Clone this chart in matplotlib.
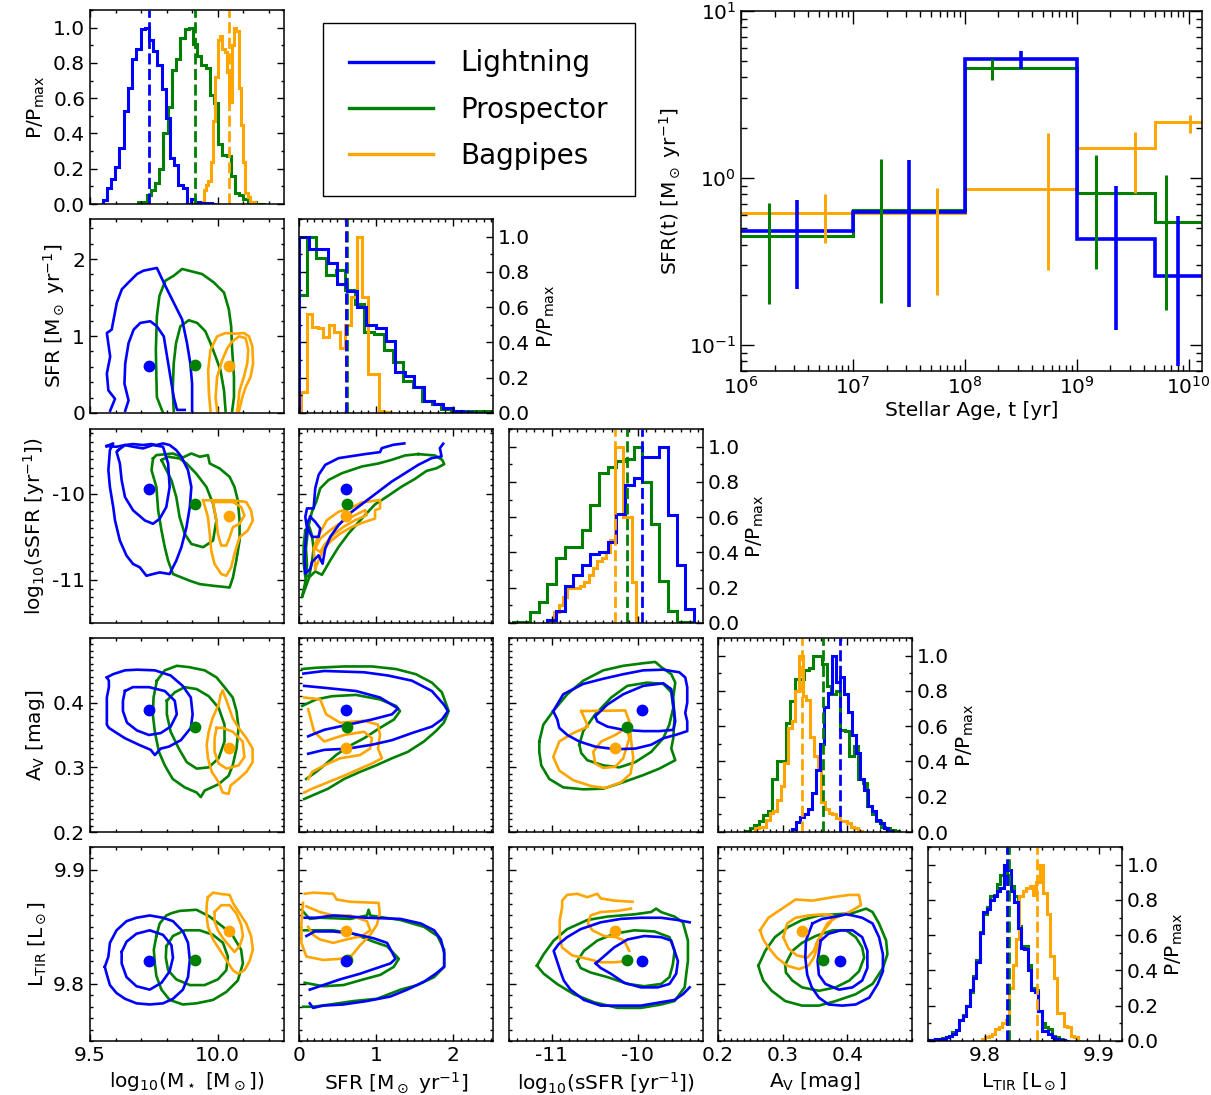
import numpy as np
import matplotlib
matplotlib.use('Agg')
import matplotlib.pyplot as plt
from matplotlib.ticker import MultipleLocator, FixedLocator, FormatStrFormatter, NullFormatter
from matplotlib.lines import Line2D

plt.rcParams['font.family'] = ['DejaVu Sans']
plt.rcParams['mathtext.default'] = 'regular'
plt.rcParams['axes.unicode_minus'] = False

models = ['Lightning', 'Prospector', 'Bagpipes']
colors = ['#0000ff', '#008000', '#ffa500']

#%% medians (order: Lightning, Prospector, Bagpipes)
med_mstar = [9.732, 9.91, 10.045]
med_sfr = [0.615, 0.62, 0.61]
med_ssfr = [-9.95, -10.12, -10.26]
med_av = [0.389, 0.363, 0.330]
med_ltir = [9.820, 9.821, 9.846]

#%% 1D posteriors: first bin edge, bin width, P/Pmax per bin
mstar_start = [9.5495, 9.6888, 9.9271]
mstar_width = [0.0165, 0.0165, 0.0091]
mstar_p_blue = [0.02, 0.09, 0.14, 0.21, 0.32, 0.53, 0.66, 0.82, 0.88, 0.99, 1.0, 0.93, 0.87, 0.79,
                0.65, 0.49, 0.26, 0.22, 0.11, 0.09, 0.0, 0.03, 0.01, 0.005, 0.005, 0.005, 0.0]
mstar_p_green = [0.01, 0.01, 0.05, 0.08, 0.12, 0.2, 0.4, 0.55, 0.76, 0.82, 0.94, 0.99, 1.0, 0.91,
                 0.84, 0.79, 0.77, 0.62, 0.57, 0.34, 0.28, 0.27, 0.16, 0.06, 0.05, 0.03, 0.01, 0.01, 0.0, 0.0]
mstar_p_orange = [0.01, 0.01, 0.08, 0.11, 0.13, 0.24, 0.47, 0.72, 0.93, 0.95, 0.88, 0.86, 0.75, 0.58,
                  0.9, 1.0, 0.98, 0.66, 0.45, 0.24, 0.06, 0.04, 0.01, 0.01, 0.0]

sfr_start = [0.0, -0.025, 0.028]
sfr_width = [0.125, 0.125, 0.072]
sfr_p_blue = [1.0, 0.93, 0.93, 0.85, 0.73, 0.69, 0.60, 0.50, 0.48, 0.41, 0.23, 0.21, 0.145, 0.07,
              0.05, 0.03, 0.01, 0.005, 0.0, 0.0]
sfr_p_green = [0.67, 1.0, 0.88, 0.78, 0.81, 0.70, 0.62, 0.46, 0.45, 0.36, 0.29, 0.18, 0.145, 0.07,
               0.05, 0.02, 0.01, 0.01, 0.01, 0.01, 0.01]
sfr_p_orange = [0.12, 0.56, 0.49, 0.48, 0.43, 0.50, 0.46, 0.37, 0.50, 0.66, 1.0, 0.66, 0.22, 0.22,
                0.01, 0.005]

ssfr_start = [-11.05, -11.45, -10.97]
ssfr_width = [0.1, 0.1, 0.05]
ssfr_p_blue = [0.015, 0.07, 0.21, 0.27, 0.33, 0.39, 0.40, 0.46, 0.62, 0.78, 0.82, 0.94, 0.94, 1.0,
               0.61, 0.33, 0.08]
ssfr_p_green = [0.005, 0.005, 0.06, 0.12, 0.22, 0.37, 0.43, 0.43, 0.53, 0.67, 0.85, 0.885, 0.92,
                0.93, 1.0, 0.80, 0.56, 0.24, 0.07, 0.005, 0.005]
ssfr_p_orange = [0.06, 0.10, 0.15, 0.20, 0.20, 0.20, 0.21, 0.23, 0.27, 0.31, 0.35, 0.37, 0.40, 0.47,
                 1.0, 1.0, 0.60, 0.60, 0.23]

av_start = [0.314, 0.242, 0.257]
av_width = [0.0062, 0.007, 0.0057]
av_p_blue = [0.015, 0.057, 0.086, 0.10, 0.13, 0.22, 0.35, 0.50, 0.71, 0.79, 1.0, 0.85, 0.88, 0.78,
             0.68, 0.55, 0.45, 0.30, 0.24, 0.15, 0.12, 0.07, 0.05, 0.02, 0.005]
av_p_green = [0.005, 0.02, 0.04, 0.06, 0.095, 0.12, 0.30, 0.40, 0.40, 0.62, 0.74, 0.87, 0.87, 0.92,
              0.93, 1.0, 1.0, 0.95, 0.83, 0.78, 0.80, 0.58, 0.57, 0.43, 0.49, 0.30, 0.28, 0.15,
              0.10, 0.06, 0.03, 0.02, 0.01, 0.005]
av_p_orange = [0.02, 0.03, 0.03, 0.07, 0.11, 0.12, 0.18, 0.26, 0.39, 0.59, 0.63, 0.80, 1.0, 0.77,
               0.75, 0.54, 0.43, 0.36, 0.17, 0.13, 0.11, 0.10, 0.08, 0.06, 0.06, 0.05, 0.03, 0.02, 0.005]

ltir_start = [9.7509, 9.7509, 9.7975]
ltir_width = [0.003, 0.003, 0.003]
ltir_p_blue = [0.005, 0.005, 0.01, 0.01, 0.01, 0.02, 0.03, 0.04, 0.06, 0.12, 0.14, 0.2, 0.29, 0.36,
               0.45, 0.61, 0.73, 0.75, 0.80, 0.82, 0.85, 0.87, 1.0, 0.97, 0.85, 0.79, 0.64, 0.53,
               0.52, 0.40, 0.29, 0.28, 0.17, 0.057, 0.057, 0.04, 0.02, 0.01, 0.005, 0.005, 0.0]
ltir_p_green = [0.005, 0.005, 0.01, 0.01, 0.015, 0.02, 0.03, 0.05, 0.06, 0.12, 0.15, 0.2, 0.28, 0.37,
                0.46, 0.62, 0.72, 0.76, 0.82, 0.83, 0.89, 0.94, 1.0, 0.94, 0.88, 0.82, 0.65, 0.54,
                0.54, 0.43, 0.30, 0.29, 0.17, 0.10, 0.08, 0.07, 0.03, 0.02, 0.01, 0.005, 0.0]
ltir_p_orange = [0.01, 0.02, 0.03, 0.04, 0.07, 0.08, 0.10, 0.12, 0.3, 0.43, 0.58, 0.82, 0.85, 0.87,
                 0.88, 0.83, 0.9, 1.0, 0.84, 0.72, 0.48, 0.36, 0.16, 0.16, 0.085, 0.08, 0.03, 0.02, 0.0]

#%% 2D posteriors: [outer, inner] contour paths, (x, y) in data units
mstar_sfr_blue = [
    [(9.579, 0.03), (9.598, 0.184), (9.572, 0.294), (9.566, 0.513), (9.579, 0.732), (9.566, 1.039),
     (9.585, 1.083), (9.605, 1.433), (9.625, 1.608), (9.651, 1.696), (9.684, 1.805), (9.710, 1.849),
     (9.762, 1.884), (9.795, 1.652), (9.828, 1.433), (9.861, 1.214), (9.880, 0.907), (9.893, 0.644),
     (9.900, 0.381), (9.900, 0.03)],
    [(9.638, 0.03), (9.651, 0.163), (9.635, 0.381), (9.638, 0.644), (9.651, 0.907), (9.671, 1.083),
     (9.697, 1.170), (9.736, 1.192), (9.762, 1.126), (9.789, 0.995), (9.802, 0.732), (9.815, 0.469),
     (9.828, 0.206), (9.841, 0.04), (9.871, 0.04)]]
mstar_sfr_green = [
    [(9.785, 0.01), (9.762, 0.206), (9.760, 0.469), (9.758, 0.82), (9.762, 1.258), (9.772, 1.521),
     (9.795, 1.718), (9.828, 1.783), (9.861, 1.871), (9.887, 1.849), (9.939, 1.805), (9.985, 1.696),
     (10.025, 1.564), (10.044, 1.345), (10.053, 1.126), (10.057, 0.82), (10.064, 0.469),
     (10.064, 0.206), (10.057, 0.03)],
    [(9.828, 0.03), (9.824, 0.294), (9.828, 0.644), (9.837, 0.907), (9.854, 1.126), (9.887, 1.205),
     (9.920, 1.170), (9.952, 1.061), (9.972, 0.907), (9.992, 0.732), (10.011, 0.557), (10.025, 0.294),
     (10.031, 0.03)]]
mstar_sfr_orange = [
    [(9.972, 0.03), (9.966, 0.25), (9.963, 0.557), (9.972, 0.82), (9.998, 0.995), (10.031, 1.039),
     (10.070, 1.03), (10.103, 1.039), (10.123, 0.995), (10.136, 0.864), (10.139, 0.644),
     (10.129, 0.469), (10.110, 0.338), (10.097, 0.206), (10.084, 0.03)],
    [(9.998, 0.03), (9.992, 0.206), (9.998, 0.469), (10.018, 0.688), (10.038, 0.842), (10.057, 0.929),
     (10.084, 0.995), (10.110, 0.973), (10.120, 0.82), (10.116, 0.644), (10.103, 0.469),
     (10.086, 0.294), (10.077, 0.03)]]

mstar_ssfr_blue = [
    [(9.565, -9.448), (9.591, -9.417), (9.578, -9.495), (9.572, -9.728), (9.578, -9.922),
     (9.591, -10.155), (9.598, -10.311), (9.617, -10.544), (9.643, -10.718), (9.669, -10.816),
     (9.695, -10.854), (9.721, -10.952), (9.747, -10.932), (9.773, -10.913), (9.812, -10.932),
     (9.825, -10.854), (9.838, -10.777), (9.858, -10.621), (9.878, -10.388), (9.891, -10.155),
     (9.897, -9.922), (9.884, -9.728), (9.858, -9.572), (9.838, -9.495), (9.812, -9.436),
     (9.786, -9.417), (9.760, -9.436), (9.741, -9.425), (9.708, -9.436), (9.669, -9.425),
     (9.637, -9.436), (9.604, -9.456)],
    [(9.611, -9.495), (9.637, -9.436), (9.669, -9.456), (9.708, -9.475), (9.747, -9.436),
     (9.786, -9.456), (9.806, -9.65), (9.812, -9.922), (9.799, -10.155), (9.773, -10.291),
     (9.747, -10.349), (9.715, -10.311), (9.669, -10.194), (9.637, -10.039), (9.624, -9.844),
     (9.617, -9.65), (9.604, -9.514)]]
mstar_ssfr_green = [
    [(9.747, -9.592), (9.760, -9.553), (9.825, -9.534), (9.864, -9.580), (9.897, -9.534),
     (9.930, -9.572), (9.962, -9.553), (9.969, -9.650), (10.008, -9.708), (10.047, -9.805),
     (10.066, -9.922), (10.079, -10.077), (10.086, -10.311), (10.086, -10.544), (10.073, -10.777),
     (10.060, -10.971), (10.047, -11.088), (9.982, -11.068), (9.930, -11.049), (9.891, -11.01),
     (9.825, -10.932), (9.806, -10.777), (9.793, -10.621), (9.780, -10.427), (9.767, -10.194),
     (9.760, -9.922), (9.741, -9.728)],
    [(9.780, -9.611), (9.806, -9.572), (9.851, -9.592), (9.878, -9.650), (9.916, -9.767),
     (9.956, -9.922), (9.982, -10.116), (9.995, -10.311), (9.982, -10.544), (9.943, -10.621),
     (9.897, -10.583), (9.871, -10.466), (9.851, -10.272), (9.838, -10.039), (9.819, -9.844),
     (9.793, -9.689)]]
mstar_ssfr_orange = [
    [(9.943, -10.077), (10.060, -10.077), (10.112, -10.097), (10.131, -10.194), (10.138, -10.311),
     (10.118, -10.427), (10.086, -10.505), (10.066, -10.699), (10.053, -10.854), (10.034, -10.952),
     (10.014, -10.932), (9.988, -10.816), (9.975, -10.660), (9.969, -10.466), (9.962, -10.272),
     (9.949, -10.136)],
    [(9.982, -10.097), (10.060, -10.097), (10.092, -10.155), (10.105, -10.252), (10.086, -10.349),
     (10.060, -10.388), (10.047, -10.505), (10.034, -10.602), (10.014, -10.602), (10.001, -10.466),
     (9.995, -10.311), (9.988, -10.194)]]

sfr_ssfr_blue = [
    [(1.368, -9.417), (1.226, -9.433), (1.075, -9.472), (1.053, -9.518), (0.859, -9.541),
     (0.514, -9.588), (0.341, -9.666), (0.255, -9.782), (0.211, -9.938), (0.19, -10.171),
     (0.104, -10.171), (0.082, -10.268), (0.104, -10.404), (0.082, -10.599), (0.073, -10.793),
     (0.082, -10.929), (0.147, -10.871), (0.168, -10.793), (0.255, -10.715), (0.306, -10.812),
     (0.341, -10.637), (0.406, -10.501), (0.514, -10.365), (0.686, -10.21), (0.859, -10.093),
     (1.031, -9.977), (1.204, -9.86), (1.377, -9.763), (1.549, -9.666), (1.722, -9.588),
     (1.852, -9.569), (1.830, -9.472), (1.873, -9.421)],
    [(0.147, -10.268), (0.211, -10.327), (0.276, -10.404), (0.255, -10.501), (0.168, -10.501),
     (0.125, -10.424), (0.104, -10.346)]]
sfr_ssfr_green = [
    [(1.549, -9.541), (1.377, -9.557), (1.204, -9.608), (1.031, -9.65), (0.816, -9.685),
     (0.557, -9.763), (0.384, -9.841), (0.276, -9.938), (0.224, -10.093), (0.168, -10.21),
     (0.117, -10.404), (0.091, -10.637), (0.104, -10.832), (0.082, -11.026), (0.039, -11.201),
     (0.134, -10.968), (0.211, -10.902), (0.298, -10.941), (0.406, -10.774), (0.514, -10.618),
     (0.643, -10.463), (0.816, -10.288), (0.988, -10.124), (1.161, -10.023), (1.334, -9.918),
     (1.506, -9.829), (1.657, -9.736), (1.787, -9.705), (1.886, -9.658), (1.860, -9.608),
     (1.765, -9.557)],
    [(0.082, -10.424), (0.134, -10.385), (0.168, -10.482), (0.19, -10.637), (0.168, -10.793),
     (0.134, -10.948), (0.082, -10.968), (0.06, -10.793), (0.06, -10.599)]]
sfr_ssfr_orange = [
    [(0.211, -10.871), (0.19, -10.637), (0.255, -10.482), (0.363, -10.307), (0.514, -10.21),
     (0.686, -10.163), (0.816, -10.101), (1.053, -10.074), (1.053, -10.171), (0.988, -10.191),
     (0.988, -10.288), (0.837, -10.334), (0.686, -10.385), (0.535, -10.463), (0.427, -10.54),
     (0.319, -10.637), (0.255, -10.774)],
    [(0.211, -10.637), (0.276, -10.521), (0.406, -10.424), (0.557, -10.327), (0.729, -10.249),
     (0.859, -10.191), (0.880, -10.249), (0.729, -10.307), (0.578, -10.385), (0.449, -10.474),
     (0.341, -10.579), (0.276, -10.676)]]

mstar_av_blue = [
    [(9.566, 0.439), (9.590, 0.444), (9.637, 0.450), (9.684, 0.451), (9.754, 0.450), (9.816, 0.442),
     (9.863, 0.426), (9.895, 0.408), (9.902, 0.382), (9.895, 0.361), (9.856, 0.342), (9.809, 0.332),
     (9.777, 0.329), (9.754, 0.319), (9.738, 0.327), (9.691, 0.335), (9.637, 0.345), (9.605, 0.353),
     (9.574, 0.361), (9.566, 0.366), (9.566, 0.387), (9.566, 0.408), (9.574, 0.424), (9.574, 0.434)],
    [(9.637, 0.418), (9.668, 0.424), (9.731, 0.424), (9.793, 0.418), (9.832, 0.403), (9.840, 0.382),
     (9.816, 0.363), (9.777, 0.353), (9.731, 0.35), (9.684, 0.357), (9.645, 0.369), (9.629, 0.387),
     (9.629, 0.403)]]
mstar_av_green = [
    [(9.762, 0.434), (9.793, 0.450), (9.840, 0.457), (9.887, 0.455), (9.949, 0.450), (9.996, 0.439),
     (10.027, 0.424), (10.059, 0.408), (10.074, 0.387), (10.082, 0.361), (10.074, 0.329),
     (10.059, 0.303), (10.043, 0.287), (10.004, 0.274), (9.949, 0.264), (9.934, 0.254),
     (9.918, 0.261), (9.871, 0.269), (9.824, 0.282), (9.793, 0.303), (9.770, 0.324), (9.754, 0.355),
     (9.746, 0.382), (9.749, 0.408)],
    [(9.801, 0.403), (9.832, 0.416), (9.871, 0.424), (9.918, 0.421), (9.965, 0.410), (10.004, 0.392),
     (10.027, 0.366), (10.027, 0.340), (10.004, 0.314), (9.965, 0.300), (9.918, 0.298),
     (9.879, 0.308), (9.848, 0.329), (9.816, 0.355), (9.801, 0.382)]]
mstar_av_orange = [
    [(10.020, 0.418), (10.035, 0.403), (10.059, 0.376), (10.082, 0.361), (10.113, 0.345),
     (10.137, 0.329), (10.137, 0.308), (10.113, 0.293), (10.082, 0.282), (10.051, 0.272),
     (10.043, 0.259), (10.020, 0.261), (10.004, 0.277), (9.977, 0.293), (9.962, 0.314),
     (9.957, 0.335), (9.965, 0.355), (9.980, 0.376), (10.004, 0.397), (10.012, 0.413)],
    [(9.996, 0.361), (10.020, 0.361), (10.059, 0.355), (10.098, 0.340), (10.105, 0.316),
     (10.082, 0.303), (10.035, 0.298), (10.004, 0.306), (9.988, 0.324), (9.988, 0.345)]]

sfr_av_blue = [
    [(0.057, 0.445), (0.327, 0.449), (0.845, 0.447), (1.156, 0.442), (1.467, 0.434), (1.726, 0.418),
     (1.882, 0.397), (1.934, 0.387), (1.856, 0.374), (1.726, 0.363), (1.467, 0.353), (1.208, 0.342),
     (0.949, 0.335), (0.638, 0.329), (0.327, 0.327), (0.119, 0.321)],
    [(0.067, 0.426), (0.327, 0.423), (0.741, 0.418), (1.052, 0.408), (1.286, 0.391), (1.208, 0.382),
     (0.949, 0.374), (0.638, 0.366), (0.327, 0.358), (0.119, 0.348)]]
sfr_av_green = [
    [(0.041, 0.452), (0.223, 0.454), (0.586, 0.456), (0.949, 0.456), (1.260, 0.452), (1.519, 0.444),
     (1.726, 0.431), (1.856, 0.416), (1.944, 0.387), (1.882, 0.369), (1.778, 0.356), (1.623, 0.340),
     (1.415, 0.324), (1.208, 0.314), (1.001, 0.303), (0.793, 0.293), (0.586, 0.282), (0.378, 0.267),
     (0.223, 0.259), (0.067, 0.251)],
    [(0.041, 0.395), (0.223, 0.405), (0.430, 0.410), (0.741, 0.412), (1.052, 0.405), (1.260, 0.395),
     (1.312, 0.387), (1.234, 0.374), (1.052, 0.361), (0.845, 0.345), (0.638, 0.332), (0.482, 0.319),
     (0.327, 0.303), (0.223, 0.293), (0.093, 0.282)]]
sfr_av_orange = [
    [(0.067, 0.408), (0.275, 0.405), (0.353, 0.382), (0.534, 0.369), (0.845, 0.372), (1.026, 0.366),
     (1.052, 0.350), (1.026, 0.329), (1.078, 0.314), (0.949, 0.306), (0.793, 0.298), (0.586, 0.287),
     (0.378, 0.277), (0.171, 0.267), (0.067, 0.261)],
    [(0.119, 0.390), (0.197, 0.355), (0.327, 0.340), (0.586, 0.350), (0.845, 0.355), (0.949, 0.345),
     (0.923, 0.329), (0.793, 0.319), (0.534, 0.314), (0.327, 0.303), (0.171, 0.293), (0.119, 0.282)]]

ssfr_av_blue = [
    [(-10.981, 0.387), (-10.865, 0.413), (-10.633, 0.429), (-10.401, 0.437), (-10.169, 0.444),
     (-9.937, 0.450), (-9.705, 0.451), (-9.519, 0.447), (-9.450, 0.439), (-9.427, 0.424),
     (-9.427, 0.400), (-9.450, 0.384), (-9.427, 0.371), (-9.427, 0.356), (-9.566, 0.350),
     (-9.705, 0.345), (-9.844, 0.335), (-10.030, 0.329), (-10.262, 0.328), (-10.494, 0.332),
     (-10.679, 0.340), (-10.818, 0.350), (-10.911, 0.361), (-10.934, 0.374)],
    [(-10.494, 0.379), (-10.354, 0.397), (-10.169, 0.413), (-9.937, 0.426), (-9.705, 0.430),
     (-9.612, 0.421), (-9.589, 0.397), (-9.566, 0.371), (-9.589, 0.358), (-9.751, 0.356),
     (-9.937, 0.356), (-10.169, 0.358), (-10.354, 0.363), (-10.471, 0.371)]]
ssfr_av_green = [
    [(-11.143, 0.340), (-11.096, 0.366), (-10.981, 0.387), (-10.818, 0.413), (-10.633, 0.434),
     (-10.401, 0.450), (-10.169, 0.457), (-9.937, 0.461), (-9.798, 0.463), (-9.728, 0.455),
     (-9.612, 0.444), (-9.566, 0.431), (-9.589, 0.408), (-9.575, 0.376), (-9.589, 0.345),
     (-9.612, 0.329), (-9.566, 0.311), (-9.751, 0.298), (-9.937, 0.288), (-10.169, 0.277),
     (-10.401, 0.267), (-10.633, 0.266), (-10.865, 0.269), (-11.027, 0.282), (-11.120, 0.303),
     (-11.143, 0.324)],
    [(-10.679, 0.335), (-10.633, 0.356), (-10.494, 0.382), (-10.308, 0.408), (-10.122, 0.426),
     (-9.891, 0.431), (-9.705, 0.429), (-9.612, 0.416), (-9.589, 0.392), (-9.635, 0.366),
     (-9.705, 0.345), (-9.844, 0.324), (-10.030, 0.308), (-10.215, 0.300), (-10.401, 0.303),
     (-10.586, 0.311), (-10.656, 0.322)]]
ssfr_av_orange = [
    [(-10.656, 0.387), (-10.577, 0.363), (-10.749, 0.353), (-10.911, 0.340), (-10.981, 0.316),
     (-10.911, 0.295), (-10.749, 0.280), (-10.540, 0.271), (-10.378, 0.268), (-10.192, 0.277),
     (-10.085, 0.290), (-10.053, 0.314), (-10.076, 0.340), (-10.099, 0.371), (-10.146, 0.388)],
    [(-10.494, 0.306), (-10.517, 0.324), (-10.424, 0.340), (-10.262, 0.350), (-10.132, 0.361),
     (-10.099, 0.345), (-10.169, 0.314), (-10.262, 0.301), (-10.401, 0.299)]]

mstar_ltir_blue = [
    [(9.558, 9.815), (9.572, 9.824), (9.578, 9.836), (9.604, 9.847), (9.643, 9.855), (9.682, 9.858),
     (9.734, 9.860), (9.786, 9.858), (9.825, 9.855), (9.864, 9.846), (9.884, 9.836), (9.891, 9.821),
     (9.884, 9.806), (9.864, 9.795), (9.825, 9.787), (9.786, 9.783), (9.734, 9.782), (9.682, 9.783),
     (9.637, 9.787), (9.604, 9.792), (9.578, 9.799), (9.565, 9.809)],
    [(9.624, 9.828), (9.643, 9.837), (9.682, 9.844), (9.734, 9.847), (9.786, 9.843), (9.819, 9.834),
     (9.825, 9.823), (9.812, 9.811), (9.780, 9.801), (9.734, 9.795), (9.682, 9.798), (9.643, 9.806),
     (9.624, 9.818)]]
mstar_ltir_green = [
    [(9.760, 9.842), (9.773, 9.853), (9.799, 9.860), (9.819, 9.862), (9.851, 9.864), (9.917, 9.865),
     (9.969, 9.859), (10.021, 9.850), (10.060, 9.842), (10.092, 9.830), (10.099, 9.818),
     (10.079, 9.803), (10.034, 9.793), (9.982, 9.786), (9.917, 9.783), (9.864, 9.782),
     (9.812, 9.786), (9.780, 9.795), (9.760, 9.807), (9.754, 9.818), (9.750, 9.830)],
    [(9.799, 9.833), (9.825, 9.842), (9.871, 9.847), (9.930, 9.847), (9.982, 9.843), (10.021, 9.836),
     (10.040, 9.824), (10.034, 9.812), (10.001, 9.804), (9.949, 9.799), (9.891, 9.799),
     (9.838, 9.804), (9.806, 9.812), (9.797, 9.823)]]
mstar_ltir_orange = [
    [(9.962, 9.876), (9.982, 9.880), (10.008, 9.879), (10.047, 9.878), (10.060, 9.871),
     (10.086, 9.862), (10.112, 9.853), (10.131, 9.842), (10.138, 9.830), (10.125, 9.820),
     (10.105, 9.812), (10.079, 9.809), (10.060, 9.812), (10.034, 9.821), (10.008, 9.830),
     (9.982, 9.839), (9.962, 9.850), (9.956, 9.862), (9.958, 9.871)],
    [(9.988, 9.863), (10.014, 9.869), (10.047, 9.869), (10.073, 9.862), (10.092, 9.852),
     (10.099, 9.842), (10.086, 9.833), (10.066, 9.828), (10.047, 9.833), (10.021, 9.840),
     (10.001, 9.847), (9.988, 9.855)]]

sfr_ltir_blue = [
    [(0.074, 9.858), (0.227, 9.858), (0.445, 9.860), (0.882, 9.858), (1.319, 9.857), (1.581, 9.853),
     (1.755, 9.847), (1.843, 9.839), (1.886, 9.827), (1.886, 9.815), (1.777, 9.809), (1.624, 9.802),
     (1.406, 9.795), (1.188, 9.789), (0.882, 9.785), (0.576, 9.782), (0.314, 9.781), (0.183, 9.779),
     (0.140, 9.783)],
    [(0.096, 9.842), (0.205, 9.846), (0.445, 9.846), (0.707, 9.844), (0.969, 9.840), (1.144, 9.836),
     (1.253, 9.822), (1.188, 9.818), (1.013, 9.814), (0.795, 9.809), (0.533, 9.804), (0.271, 9.798),
     (0.140, 9.795)]]
sfr_ltir_green = [
    [(0.031, 9.865), (0.140, 9.857), (0.271, 9.858), (0.664, 9.857), (0.882, 9.860), (0.904, 9.865),
     (0.926, 9.860), (1.319, 9.856), (1.624, 9.850), (1.799, 9.842), (1.886, 9.830), (1.886, 9.815),
     (1.755, 9.806), (1.537, 9.799), (1.319, 9.795), (1.013, 9.787), (0.707, 9.785), (0.402, 9.782),
     (0.183, 9.780), (0.052, 9.780)],
    [(0.031, 9.847), (0.183, 9.847), (0.445, 9.847), (0.707, 9.844), (0.969, 9.837), (1.144, 9.833),
     (1.297, 9.822), (1.231, 9.815), (1.057, 9.808), (0.838, 9.804), (0.576, 9.799), (0.314, 9.798),
     (0.074, 9.801)]]
sfr_ltir_orange = [
    [(0.074, 9.879), (0.183, 9.880), (0.445, 9.879), (0.489, 9.874), (0.664, 9.872), (1.035, 9.871),
     (1.048, 9.862), (1.013, 9.852), (0.926, 9.843), (0.795, 9.834), (0.686, 9.825), (0.533, 9.822),
     (0.314, 9.821), (0.096, 9.824), (0.031, 9.836), (0.031, 9.853), (0.052, 9.871)],
    [(0.096, 9.868), (0.271, 9.863), (0.445, 9.860), (0.664, 9.860), (0.882, 9.855), (0.926, 9.847),
     (0.817, 9.842), (0.620, 9.839), (0.445, 9.836), (0.271, 9.839), (0.183, 9.843), (0.118, 9.850)]]

ssfr_ltir_blue = [
    [(-9.399, 9.854), (-9.535, 9.856), (-9.730, 9.858), (-9.964, 9.858), (-10.197, 9.857),
     (-10.431, 9.854), (-10.664, 9.848), (-10.820, 9.841), (-10.917, 9.835), (-10.976, 9.829),
     (-10.937, 9.820), (-10.898, 9.811), (-10.859, 9.803), (-10.781, 9.795), (-10.625, 9.786),
     (-10.431, 9.781), (-10.197, 9.781), (-9.964, 9.781), (-9.730, 9.784), (-9.574, 9.786),
     (-9.477, 9.791), (-9.399, 9.797)],
    [(-10.489, 9.818), (-10.411, 9.823), (-10.275, 9.832), (-10.119, 9.839), (-9.925, 9.842),
     (-9.730, 9.841), (-9.613, 9.838), (-9.574, 9.829), (-9.535, 9.820), (-9.555, 9.809),
     (-9.633, 9.800), (-9.769, 9.797), (-9.964, 9.797), (-10.158, 9.801), (-10.314, 9.809),
     (-10.431, 9.814)]]
ssfr_ltir_green = [
    [(-11.170, 9.816), (-11.092, 9.826), (-10.976, 9.838), (-10.820, 9.848), (-10.586, 9.856),
     (-10.353, 9.859), (-10.041, 9.861), (-9.847, 9.863), (-9.788, 9.866), (-9.730, 9.863),
     (-9.574, 9.859), (-9.477, 9.854), (-9.419, 9.838), (-9.419, 9.820), (-9.438, 9.809),
     (-9.457, 9.797), (-9.574, 9.785), (-9.730, 9.782), (-9.964, 9.779), (-10.236, 9.779),
     (-10.509, 9.784), (-10.742, 9.791), (-10.937, 9.800), (-11.092, 9.809)],
    [(-10.703, 9.820), (-10.625, 9.829), (-10.470, 9.838), (-10.275, 9.844), (-10.041, 9.847),
     (-9.808, 9.846), (-9.633, 9.841), (-9.574, 9.829), (-9.594, 9.817), (-9.633, 9.806),
     (-9.730, 9.800), (-9.925, 9.798), (-10.119, 9.800), (-10.353, 9.806), (-10.547, 9.810),
     (-10.664, 9.814)]]
ssfr_ltir_orange = [
    [(-10.061, 9.872), (-10.275, 9.873), (-10.431, 9.875), (-10.470, 9.879), (-10.586, 9.876),
     (-10.703, 9.879), (-10.820, 9.878), (-10.878, 9.873), (-10.878, 9.867), (-10.906, 9.856),
     (-10.906, 9.841), (-10.878, 9.832), (-10.762, 9.825), (-10.586, 9.822), (-10.431, 9.819),
     (-10.275, 9.819), (-10.119, 9.820)],
    [(-10.080, 9.866), (-10.236, 9.864), (-10.431, 9.863), (-10.547, 9.860), (-10.579, 9.853),
     (-10.528, 9.847), (-10.392, 9.842), (-10.256, 9.841), (-10.158, 9.838), (-10.100, 9.829)]]

av_ltir_blue = [
    [(0.346, 9.853), (0.361, 9.857), (0.382, 9.859), (0.398, 9.861), (0.408, 9.860), (0.423, 9.858),
     (0.439, 9.853), (0.449, 9.841), (0.455, 9.826), (0.455, 9.811), (0.447, 9.800), (0.434, 9.788),
     (0.413, 9.782), (0.392, 9.781), (0.371, 9.782), (0.356, 9.788), (0.345, 9.797), (0.338, 9.808),
     (0.335, 9.823), (0.336, 9.838)],
    [(0.359, 9.838), (0.371, 9.844), (0.390, 9.847), (0.408, 9.847), (0.423, 9.841), (0.431, 9.829),
     (0.431, 9.814), (0.423, 9.803), (0.408, 9.797), (0.387, 9.795), (0.366, 9.800), (0.356, 9.808),
     (0.354, 9.820)]]
av_ltir_green = [
    [(0.2625, 9.816), (0.273, 9.829), (0.288, 9.841), (0.309, 9.850), (0.330, 9.856), (0.356, 9.860),
     (0.382, 9.861), (0.408, 9.862), (0.429, 9.866), (0.439, 9.863), (0.449, 9.853), (0.460, 9.838),
     (0.462, 9.826), (0.455, 9.814), (0.439, 9.800), (0.413, 9.791), (0.382, 9.785), (0.356, 9.781),
     (0.330, 9.781), (0.304, 9.785), (0.283, 9.794), (0.270, 9.803), (0.265, 9.811)],
    [(0.304, 9.817), (0.315, 9.829), (0.330, 9.836), (0.351, 9.842), (0.377, 9.847), (0.398, 9.847),
     (0.413, 9.841), (0.423, 9.832), (0.426, 9.823), (0.418, 9.811), (0.403, 9.803), (0.382, 9.797),
     (0.356, 9.794), (0.330, 9.797), (0.315, 9.803), (0.305, 9.810)]]
av_ltir_orange = [
    [(0.265, 9.847), (0.278, 9.858), (0.299, 9.866), (0.320, 9.874), (0.346, 9.873), (0.377, 9.876),
     (0.403, 9.878), (0.418, 9.878), (0.421, 9.869), (0.403, 9.863), (0.382, 9.858), (0.369, 9.853),
     (0.361, 9.844), (0.354, 9.832), (0.348, 9.823), (0.340, 9.816), (0.325, 9.813), (0.307, 9.816),
     (0.291, 9.823), (0.278, 9.832), (0.270, 9.839)],
    [(0.301, 9.841), (0.307, 9.853), (0.320, 9.858), (0.340, 9.860), (0.361, 9.861), (0.377, 9.860),
     (0.374, 9.854), (0.364, 9.847), (0.354, 9.838), (0.348, 9.829), (0.338, 9.823), (0.322, 9.825),
     (0.309, 9.831)]]

#%% star formation history
sfh_edges = [1e6, 1e7, 1e8, 1e9, 5e9, 1.32e10]
sfh_blue = [0.485, 0.628, 5.18, 0.43, 0.26]
sfh_green = [0.453, 0.64, 4.55, 0.817, 0.545]
sfh_orange = [0.622, 0.617, 0.855, 1.51, 2.16]
err_t_blue = [3.16e6, 3.16e7, 3.16e8, 2.24e9, 8.1e9]
err_lo_blue = [0.216, 0.17, 4.49, 0.123, 0.075]
err_hi_blue = [0.74, 1.28, 5.75, 0.90, 0.594]
err_t_green = [1.78e6, 1.78e7, 1.76e8, 1.48e9, 6.3e9]
err_lo_green = [0.176, 0.178, 3.84, 0.284, 0.163]
err_hi_green = [0.71, 1.30, 5.18, 1.37, 1.05]
err_t_orange = [5.6e6, 5.6e7, 5.55e8, 3.3e9, 1.04e10]
err_lo_orange = [0.41, 0.20, 0.28, 0.81, 1.85]
err_hi_orange = [0.80, 0.875, 1.85, 1.89, 2.4]

#%% layout / styling
W, H = 1211, 1095
fig = plt.figure(figsize=(W / 100, H / 100), dpi=100)


def px_axes(x0, y0, w, h):
    return fig.add_axes([x0 / W, 1 - (y0 + h) / H, w / W, h / H])


names = ['mstar', 'sfr', 'ssfr', 'av', 'ltir']
axlabel = {'mstar': r'log$_{10}$(M$_\star$ [M$_\odot$])',
           'sfr': r'SFR [M$_\odot$ yr$^{-1}$]',
           'ssfr': r'log$_{10}$(sSFR [yr$^{-1}$])',
           'av': r'A$_{\mathrm{V}}$ [mag]',
           'ltir': r'L$_{\mathrm{TIR}}$ [L$_\odot$]'}
lims = {'mstar': (9.5, 10.26), 'sfr': (0, 2.52), 'ssfr': (-11.5, -9.25),
        'av': (0.2, 0.5), 'ltir': (9.75, 9.92)}
major = {'mstar': [9.5, 10.0], 'sfr': [0, 1, 2], 'ssfr': [-11, -10],
         'av': [0.2, 0.3, 0.4], 'ltir': [9.8, 9.9]}
minor_x = {'mstar': 0.1, 'sfr': 0.1, 'ssfr': 0.1, 'av': 0.01, 'ltir': 0.01}
minor_y = {'mstar': 0.1, 'sfr': 0.2, 'ssfr': 0.1, 'av': 0.01, 'ltir': 0.01}
fmt = {'mstar': '%.1f', 'sfr': '%d', 'ssfr': '%d', 'av': '%.1f', 'ltir': '%.1f'}

meds = {'mstar': med_mstar, 'sfr': med_sfr, 'ssfr': med_ssfr, 'av': med_av, 'ltir': med_ltir}
hists = {
    'mstar': (mstar_start, mstar_width, [mstar_p_blue, mstar_p_green, mstar_p_orange]),
    'sfr': (sfr_start, sfr_width, [sfr_p_blue, sfr_p_green, sfr_p_orange]),
    'ssfr': (ssfr_start, ssfr_width, [ssfr_p_blue, ssfr_p_green, ssfr_p_orange]),
    'av': (av_start, av_width, [av_p_blue, av_p_green, av_p_orange]),
    'ltir': (ltir_start, ltir_width, [ltir_p_blue, ltir_p_green, ltir_p_orange]),
}
contours = {
    (1, 0): [mstar_sfr_blue, mstar_sfr_green, mstar_sfr_orange],
    (2, 0): [mstar_ssfr_blue, mstar_ssfr_green, mstar_ssfr_orange],
    (2, 1): [sfr_ssfr_blue, sfr_ssfr_green, sfr_ssfr_orange],
    (3, 0): [mstar_av_blue, mstar_av_green, mstar_av_orange],
    (3, 1): [sfr_av_blue, sfr_av_green, sfr_av_orange],
    (3, 2): [ssfr_av_blue, ssfr_av_green, ssfr_av_orange],
    (4, 0): [mstar_ltir_blue, mstar_ltir_green, mstar_ltir_orange],
    (4, 1): [sfr_ltir_blue, sfr_ltir_green, sfr_ltir_orange],
    (4, 2): [ssfr_ltir_blue, ssfr_ltir_green, ssfr_ltir_orange],
    (4, 3): [av_ltir_blue, av_ltir_green, av_ltir_orange],
}
# contours that touch the plot edge (left open)
open_panels = {(1, 0), (3, 1), (4, 1)}
open_single = {((2, 1), 0, 0), ((4, 2), 0, 0), ((4, 2), 2, 0), ((4, 2), 2, 1)}

col_x = [90, 299, 508.5, 718, 927.5]
row_y = [10, 219, 429, 638, 847]
size = 194
FS = 14.5
dash = (0, (4, 1.6))


def style(ax):
    ax.tick_params(which='both', direction='in', top=True, right=True,
                   labelsize=FS, width=1)
    ax.tick_params(which='major', length=5)
    ax.tick_params(which='minor', length=2.5)
    for s in ax.spines.values():
        s.set_linewidth(1.1)


def draw_path(ax, pts, color, close):
    pts = np.array(pts)
    if close:
        pts = np.vstack([pts, pts[:1]])
    ax.plot(pts[:, 0], pts[:, 1], color=color, lw=1.9, solid_joinstyle='round')


for i in range(5):
    for j in range(i + 1):
        ax = px_axes(col_x[j], row_y[i], size, size)
        style(ax)
        xn = names[j]
        ax.set_xlim(lims[xn])
        ax.xaxis.set_major_locator(FixedLocator(major[xn]))
        ax.xaxis.set_minor_locator(MultipleLocator(minor_x[xn]))
        ax.xaxis.set_major_formatter(FormatStrFormatter(fmt[xn]))
        if i == 4:
            ax.set_xlabel(axlabel[xn], fontsize=FS)
        else:
            ax.tick_params(labelbottom=False)

        if i == j:
            starts, widths, ps = hists[xn]
            for k in [1, 2, 0]:
                edges = starts[k] + widths[k] * np.arange(len(ps[k]) + 1)
                ax.stairs(ps[k], edges, baseline=0, color=colors[k], lw=2.2)
            for k in [1, 2, 0]:
                ax.axvline(meds[xn][k], color=colors[k], lw=2.0, ls=dash)
            ax.set_ylim(0, 1.1)
            ax.yaxis.set_major_locator(FixedLocator([0, 0.2, 0.4, 0.6, 0.8, 1.0]))
            ax.yaxis.set_minor_locator(MultipleLocator(0.1))
            ax.yaxis.set_major_formatter(FormatStrFormatter('%.1f'))
            ax.set_ylabel(r'P/P$_{\mathrm{max}}$', fontsize=FS)
            if i > 0:
                ax.tick_params(labelleft=False, labelright=True)
                ax.yaxis.set_label_position('right')
        else:
            yn = names[i]
            ax.set_ylim(lims[yn])
            ax.yaxis.set_major_locator(FixedLocator(major[yn]))
            ax.yaxis.set_minor_locator(MultipleLocator(minor_y[yn]))
            ax.yaxis.set_major_formatter(FormatStrFormatter(fmt[yn]))
            if j == 0:
                ax.set_ylabel(axlabel[yn], fontsize=FS)
            else:
                ax.tick_params(labelleft=False)
            for k in [1, 2, 0]:
                for m, pts in enumerate(contours[(i, j)][k]):
                    close = (i, j) not in open_panels and ((i, j), k, m) not in open_single
                    draw_path(ax, pts, colors[k], close)
            for k in [1, 2, 0]:
                ax.plot(meds[xn][k], meds[yn][k], 'o', color=colors[k], ms=8.5,
                        mec='none', zorder=5)

fig.align_ylabels()

#%% star formation history panel
ax = px_axes(741, 11, 461, 360)
ax.set_xscale('log')
ax.set_yscale('log')
sfh = [sfh_blue, sfh_green, sfh_orange]
et = [err_t_blue, err_t_green, err_t_orange]
elo = [err_lo_blue, err_lo_green, err_lo_orange]
ehi = [err_hi_blue, err_hi_green, err_hi_orange]
lws = [2.6, 2.2, 2.1]
for k in [2, 1, 0]:
    ax.stairs(sfh[k], sfh_edges, baseline=None, color=colors[k], lw=lws[k])
    ax.vlines(et[k], elo[k], ehi[k], color=colors[k], lw=lws[k])
ax.set_xlim(1e6, 1.32e10)
ax.set_ylim(0.07, 10)
ax.tick_params(which='both', direction='in', top=True, right=True, labelsize=FS, width=1)
ax.tick_params(which='major', length=9)
ax.tick_params(which='minor', length=4.5)
ax.xaxis.set_minor_formatter(NullFormatter())
ax.yaxis.set_minor_formatter(NullFormatter())
for s in ax.spines.values():
    s.set_linewidth(1.1)
ax.set_xlabel('Stellar Age, t [yr]', fontsize=FS, labelpad=2)
ax.set_ylabel(r'SFR(t) [M$_\odot$ yr$^{-1}$]', fontsize=FS)

#%% legend
handles = [Line2D([], [], color=c, lw=2.4) for c in colors]
leg = fig.legend(handles, models, loc='upper left', bbox_to_anchor=(323 / W, 1 - 23 / H),
                 fontsize=20, frameon=True, fancybox=False, edgecolor='black', framealpha=1,
                 borderpad=0.95, labelspacing=0.66, handlelength=3.0, handletextpad=1.0,
                 borderaxespad=0)
leg.get_frame().set_linewidth(1.0)

fig.savefig('out.png', dpi=100)
